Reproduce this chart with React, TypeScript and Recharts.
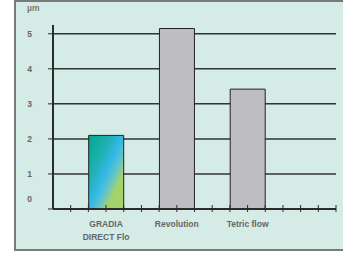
import { Bar, BarChart, CartesianGrid, Cell, XAxis, YAxis } from "recharts";

const products = ["GRADIA\nDIRECT Flo", "Revolution", "Tetric flow"];
const depths = [2.1, 5.15, 3.42];
const yTicks = [0, 1, 2, 3, 4, 5];
const gridValues = [1, 2, 3, 4, 5];
// quarter steps of the product index, for the small marks on the base line
const xTicks = [-0.5, -0.25, 0, 0.25, 0.5, 0.75, 1, 1.25, 1.5, 1.75, 2, 2.25, 2.5, 2.75, 3, 3.25];

const data = products.map((name, i) => ({ idx: i, name, depth: depths[i] }));

const INK = "#2b2b2b";
const LABEL = "#666";
const FONT = "'Liberation Sans', Arial, sans-serif";

function XTick({ x, y, payload }: any) {
	const name = Number.isInteger(payload.value) ? products[payload.value] : undefined;
	const lines = name ? name.split("\n") : [];
	return (
		<g>
			<line x1={x} x2={x} y1={y - 4} y2={y + 3} stroke={INK} strokeWidth={1} />
			{lines.length > 0 && (
				<text x={x} y={y} textAnchor="middle" fontFamily={FONT} fontSize={8.5} fontWeight="bold" fill={LABEL}>
					{lines.map((l, i) => (
						<tspan key={l} x={x} dy={i === 0 ? 18 : 12.5}>
							{l}
						</tspan>
					))}
				</text>
			)}
		</g>
	);
}

function ValueTick({ x, y, payload }: any) {
	return (
		<text x={x} y={y} dy={payload.value === 0 ? -7 : 3} textAnchor="end" fontFamily={FONT} fontSize={8.5} fontWeight="bold" fill={LABEL}>
			{payload.value}
		</text>
	);
}

export default function App() {
	return (
		<div style={{ position: "absolute", left: 0, top: 0, width: 343, height: 256 }}>
			<div
				style={{
					position: "absolute",
					left: 14,
					top: 0,
					width: 329,
					height: 251,
					background: "#d4ebe6",
					borderLeft: "2px solid #7a7a7a",
					borderTop: "2px solid #7a7a7a",
					borderBottom: "2px solid #7a7a7a",
					boxSizing: "border-box",
				}}
			/>
			<div
				style={{
					position: "absolute",
					left: 27,
					top: 3,
					fontFamily: FONT,
					fontSize: 8.5,
					fontWeight: "bold",
					color: "#777",
				}}
			>
				µm
			</div>
			<BarChart
				width={343}
				height={256}
				data={data}
				margin={{ top: 25, right: 7, bottom: 17, left: 0 }}
				style={{ position: "absolute", left: 0, top: 0 }}
			>
				<defs>
					<linearGradient id="gradia" x1="0" y1="0" x2="1" y2="1">
						<stop offset="0%" stopColor="#00a98f" />
						<stop offset="30%" stopColor="#1fb0b0" />
						<stop offset="50%" stopColor="#33b9e8" />
						<stop offset="65%" stopColor="#6cc6c0" />
						<stop offset="75%" stopColor="#a4d26a" />
						<stop offset="100%" stopColor="#a8d36a" />
					</linearGradient>
				</defs>
				<CartesianGrid vertical={false} horizontalValues={gridValues} stroke="#333" strokeWidth={1.5} />
				<XAxis
					dataKey="idx"
					type="number"
					domain={[-0.75, 3.25]}
					allowDataOverflow
					ticks={xTicks}
					interval={0}
					minTickGap={0}
					height={30}
					axisLine={{ stroke: INK, strokeWidth: 2 }}
					tickLine={false}
					tickSize={0}
					tickMargin={0}
					tick={<XTick />}
				/>
				<YAxis
					width={53}
					domain={[0, 5.25]}
					ticks={yTicks}
					interval={0}
					axisLine={{ stroke: INK, strokeWidth: 2 }}
					tickLine={{ stroke: INK }}
					tickSize={5}
					tickMargin={16}
					tick={<ValueTick />}
				/>
				<Bar dataKey="depth" barSize={35} stroke="#222" strokeWidth={1} isAnimationActive={false}>
					{data.map((_, i) => (
						<Cell key={`c-${i}`} fill={i === 0 ? "url(#gradia)" : "#bebec2"} />
					))}
				</Bar>
			</BarChart>
		</div>
	);
}
